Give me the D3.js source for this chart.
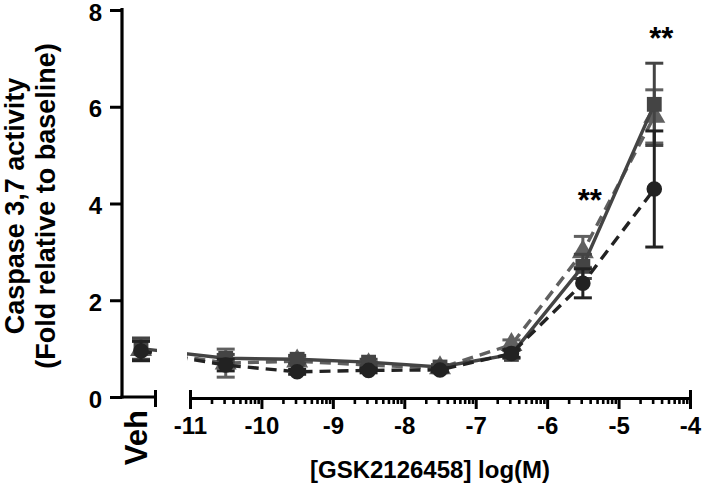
<!DOCTYPE html>
<html>
<head>
<meta charset="utf-8">
<script src="https://cdn.jsdelivr.net/npm/d3@7/dist/d3.min.js"></script>
<style>
  body { margin: 0; background: #fff; }
  text { font-family: "Liberation Sans", Arial, sans-serif; font-weight: bold; }
</style>
</head>
<body>
<div id="chart"></div>
<script>
// Doses in log(M); first entry is the vehicle control
const doses = ['Veh', -10.5, -9.5, -8.5, -7.5, -6.5, -5.5, -4.5];

// three replicate series (square / triangle / circle)
const squareMean   = [1.00, 0.80, 0.78, 0.72, 0.62, 0.88, 2.70, 6.05];
const squareErr    = [0.22, 0.08, 0.08, 0.06, 0.05, 0.08, 0.25, 0.85];
const triangleMean = [0.98, 0.70, 0.74, 0.66, 0.60, 1.08, 3.00, 5.80];
const triangleErr  = [0.22, 0.29, 0.08, 0.06, 0.05, 0.10, 0.32, 0.55];
const circleMean   = [0.95, 0.66, 0.52, 0.55, 0.56, 0.90, 2.35, 4.30];
const circleErr    = [0.20, 0.12, 0.05, 0.05, 0.04, 0.08, 0.30, 1.20];

const yTicks = [0, 2, 4, 6, 8];
const xTicks = [-11, -10, -9, -8, -7, -6, -5, -4];
const starDoses = [-5.5, -4.5];
const starLevels = [3.85, 7.2];

const W = 716, H = 496;
const svg = d3.select('#chart').append('svg')
    .attr('width', W)
    .attr('height', H);

svg.append('rect').attr('width', W).attr('height', H).attr('fill', '#fff');

const y = d3.scaleLinear().domain([0, 8]).range([397, 10]);
const x = d3.scaleLinear().domain([-11, -4]).range([190, 690]);
const xVeh = d3.scalePoint().domain(['Veh']).range([141, 141]);

const px = d => d === 'Veh' ? xVeh(d) : x(d);

// clip regions: the axis is broken between the Veh segment and the dose segment
const defs = svg.append('defs');
const clip = defs.append('clipPath').attr('id', 'brk');
clip.append('rect').attr('x', 0).attr('y', 0).attr('width', 157).attr('height', H);
clip.append('rect').attr('x', 187).attr('y', 0).attr('width', W - 187).attr('height', H);

// ---- axes ----
const axisG = svg.append('g');

const yAxis = axisG.append('g')
    .attr('transform', 'translate(122,0)')
    .call(d3.axisLeft(y).tickValues(yTicks).tickSize(12).tickSizeOuter(0).tickPadding(8));
yAxis.select('.domain').attr('stroke-width', 3.2).attr('d', `M0,${y(8) - 2}V${y(0) + 1.5}`);
yAxis.selectAll('.tick line').attr('stroke-width', 3);
yAxis.selectAll('.tick text').attr('font-size', 24).attr('fill', '#000').attr('dy', '0.42em');

// Veh segment of the x axis
const vehAxis = axisG.append('g').attr('transform', 'translate(0,397)');
vehAxis.append('line')
    .attr('x1', 120.5).attr('x2', 157)
    .attr('stroke', '#000').attr('stroke-width', 3);
vehAxis.append('line')
    .attr('x1', 155.5).attr('x2', 155.5).attr('y1', -7).attr('y2', 10)
    .attr('stroke', '#000').attr('stroke-width', 3);
vehAxis.append('text')
    .attr('transform', `translate(${xVeh('Veh') + 6},13) rotate(-90)`)
    .attr('text-anchor', 'end')
    .attr('font-size', 31)
    .text('Veh');

// main log axis
const minor = [];
xTicks.slice(0, -1).forEach(d => {
    for (let k = 2; k <= 9; k++) minor.push(d + Math.log10(k));
});

const xg = axisG.append('g').attr('transform', 'translate(0,398)');
xg.append('g')
    .call(d3.axisBottom(x).tickValues(minor).tickSize(6).tickSizeOuter(0).tickFormat(''))
    .call(g => g.selectAll('.tick line').attr('stroke-width', 2.6));
xg.append('g')
    .call(d3.axisBottom(x).tickValues(xTicks).tickSize(11).tickSizeOuter(0).tickPadding(8))
    .call(g => {
        g.select('.domain').attr('stroke-width', 3.2);
        g.selectAll('.tick line').attr('stroke-width', 3);
        g.selectAll('.tick text').attr('font-size', 24).attr('fill', '#000')
            .text(d => '-' + Math.abs(d));
    });
xg.append('g')
    .call(d3.axisTop(x).tickValues([-11, -4]).tickSize(8).tickSizeOuter(0).tickFormat(''))
    .call(g => {
        g.select('.domain').remove();
        g.selectAll('.tick line').attr('stroke-width', 3);
    });

// axis titles
svg.append('text')
    .attr('x', 430).attr('y', 478)
    .attr('text-anchor', 'middle')
    .attr('font-size', 24)
    .text('[GSK2126458] log(M)');

const yTitle = svg.append('text')
    .attr('transform', 'translate(0,206) rotate(-90)')
    .attr('text-anchor', 'middle')
    .attr('font-size', 27);
yTitle.append('tspan').attr('x', 0).attr('y', 24).text('Caspase 3,7 activity');
yTitle.append('tspan').attr('x', 0).attr('y', 55).text('(Fold relative to baseline)');

// ---- series ----
const series = [
    { mean: triangleMean, err: triangleErr, color: '#606060', dash: '11,7', shape: d3.symbolTriangle, size: 210 },
    { mean: squareMean, err: squareErr, color: '#444444', dash: null, shape: d3.symbolSquare, size: 220 },
    { mean: circleMean, err: circleErr, color: '#222222', dash: '11,7', shape: d3.symbolCircle, size: 190 }
];

const line = d3.line().x(d => px(d.dose)).y(d => y(d.v));
const plot = svg.append('g');

series.forEach(s => {
    const pts = doses.map((dose, i) => ({ dose, v: s.mean[i], e: s.err[i] }));
    const g = plot.append('g');

    g.append('path')
        .datum(pts)
        .attr('clip-path', 'url(#brk)')
        .attr('fill', 'none')
        .attr('stroke', s.color)
        .attr('stroke-width', 3.4)
        .attr('stroke-dasharray', s.dash)
        .attr('d', line);

    const eb = g.selectAll('.eb').data(pts).enter().append('g')
        .attr('stroke', s.color).attr('stroke-width', 3);
    eb.append('line')
        .attr('x1', d => px(d.dose)).attr('x2', d => px(d.dose))
        .attr('y1', d => y(d.v + d.e)).attr('y2', d => y(d.v - d.e));
    eb.append('line')
        .attr('x1', d => px(d.dose) - 9).attr('x2', d => px(d.dose) + 9)
        .attr('y1', d => y(d.v + d.e)).attr('y2', d => y(d.v + d.e));
    eb.append('line')
        .attr('x1', d => px(d.dose) - 9).attr('x2', d => px(d.dose) + 9)
        .attr('y1', d => y(d.v - d.e)).attr('y2', d => y(d.v - d.e));

    g.selectAll('.pt').data(pts).enter().append('path')
        .attr('transform', d => `translate(${px(d.dose)},${y(d.v)})`)
        .attr('d', d3.symbol().type(s.shape).size(s.size))
        .attr('fill', s.color);
});

// significance marks
svg.selectAll('.star').data(starDoses).enter().append('text')
    .attr('x', (d, i) => x(d) + 7)
    .attr('y', (d, i) => y(starLevels[i]))
    .attr('text-anchor', 'middle')
    .attr('font-size', 31)
    .text('**');
</script>
</body>
</html>
